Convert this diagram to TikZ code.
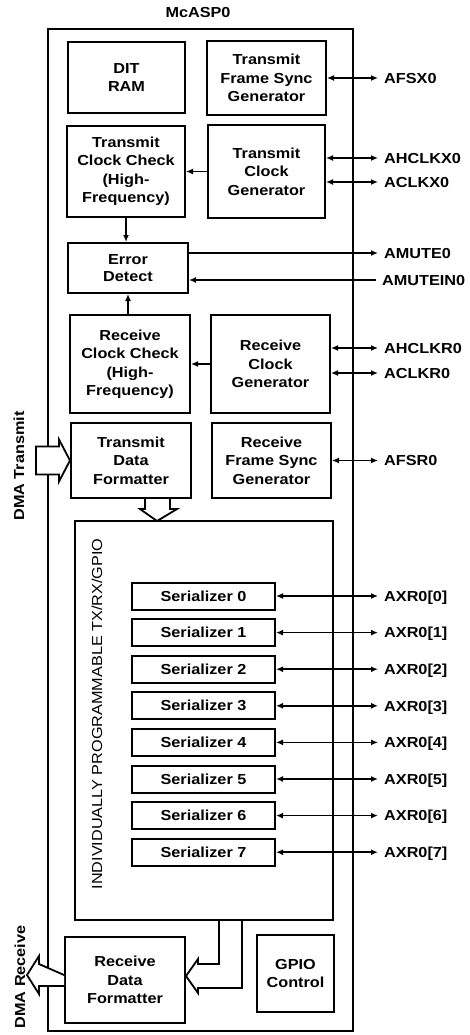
\documentclass[tikz,border=0pt]{standalone}
\usepackage{fontspec}
\setmainfont{Liberation Sans}[FakeStretch=1.12]
\usetikzlibrary{arrows.meta}
\tikzset{
  blk/.style={draw, line width=2pt, align=center, inner sep=0pt, font=\fontsize{14.5pt}{18.5pt}\selectfont\bfseries},
  sz/.style 2 args={minimum width=#1pt, minimum height=#2pt},
  pinlbl/.style={anchor=west, inner xsep=6pt, inner ysep=0pt, text height=10.4pt, text depth=0pt, font=\fontsize{14.5pt}{18pt}\selectfont\bfseries},
  sig/.style={line width=1.5pt, {Latex[length=7pt,width=6pt]}-{Latex[length=7pt,width=6pt]}},
  sigout/.style={line width=1.5pt, -{Latex[length=7pt,width=6pt]}},
  hollow/.style={line width=1.8pt, fill=white, line join=miter},
}
\begin{document}
\begin{tikzpicture}[x=1pt,y=-1pt]
            \useasboundingbox (0,0) rectangle (469,1035);
            
            \node[font=\fontsize{14.5pt}{18pt}\selectfont\bfseries] (title) at (198,13) {McASP0};
            \draw[line width=2.2pt] (48,29) rectangle (353,1031);
            
            \node[blk, sz={117}{71}] (dit) at (126.5,77.5) {DIT\\RAM};
            \node[blk, sz={119}{74}] (tfsg) at (266.5,78) {Transmit\\Frame Sync\\Generator};
            \node[blk, sz={118}{91}] (tcc) at (126,171.5) {Transmit\\Clock Check\\(High-\\Frequency)};
            \node[blk, sz={117}{93}] (tcg) at (266.5,171.5) {Transmit\\Clock\\Generator};
            \node[blk, sz={120}{50}, font=\fontsize{14.5pt}{16.5pt}\selectfont\bfseries] (ed) at (128,268) {Error\\Detect};
            \node[blk, sz={120}{98}] (rcc) at (130,364) {Receive\\Clock Check\\(High-\\Frequency)};
            \node[blk, sz={119}{98}] (rcg) at (270.5,364) {Receive\\Clock\\Generator};
            \node[blk, sz={120}{75}] (tdf) at (131,460.5) {Transmit\\Data\\Formatter};
            \node[blk, sz={119}{75}] (rfsg) at (271.5,460.5) {Receive\\Frame Sync\\Generator};
            \node[draw, line width=1.6pt, sz={258}{399}] (prog) at (204,720.5) {};
            \node[blk, sz={120}{86}] (rdf) at (125,980) {Receive\\Data\\Formatter};
            \node[blk, sz={77}{77}] (gpio) at (295.5,973.5) {GPIO\\Control};
            
            \node[rotate=90, font=\fontsize{14.5pt}{18pt}\selectfont\bfseries] (dmatx) at (19,466) {DMA Transmit};
            \node[rotate=90, font=\fontsize{14.5pt}{18pt}\selectfont\bfseries] (dmarx) at (20,977) {DMA Receive};
            \node[rotate=90, font=\fontsize{14.5pt}{18pt}\selectfont] (progtxt) at (97,714) {INDIVIDUALLY PROGRAMMABLE TX/RX/GPIO};
            
            % pins
            \node[pinlbl] (afsx) at (378,78) {AFSX0};
            \node[pinlbl] (ahclkx) at (378,158) {AHCLKX0};
            \node[pinlbl] (aclkx) at (378,182) {ACLKX0};
            \node[pinlbl] (amute) at (378,253) {AMUTE0};
            \node[pinlbl] (amutein) at (376,280) {AMUTEIN0};
            \node[pinlbl] (ahclkr) at (378,348) {AHCLKR0};
            \node[pinlbl] (aclkr) at (378,373) {ACLKR0};
            \node[pinlbl] (afsr) at (378,460.5) {AFSR0};
            
            \draw[sig] (tfsg.east) -- (afsx.west);
            \draw[sig] (tcg.east |- ahclkx.west) -- (ahclkx.west);
            \draw[sig] (tcg.east |- aclkx.west) -- (aclkx.west);
            \draw[sigout] (ed.east |- amute.west) -- (amute.west);
            \draw[sigout] (amutein.west) -- (ed.east |- amutein.west);
            \draw[sig] (rcg.east |- ahclkr.west) -- (ahclkr.west);
            \draw[sig] (rcg.east |- aclkr.west) -- (aclkr.west);
            \draw[sig] (rfsg.east) -- (afsr.west);
            
            \draw[sigout] (tcg.west) -- (tcc.east);
            \draw[sigout] (rcg.west) -- (rcc.east);
            \draw[sigout] (tcc.south) -- (tcc.south |- ed.north);
            \draw[sigout] (ed.south |- rcc.north) -- (ed.south);
            
            \foreach \i in {0,...,7}{
              \node[blk, sz={143}{27}] (ser\i) at (203.5,596+36.6*\i) {Serializer \i};
              \node[pinlbl] (axr\i) at (378,596+36.6*\i) {AXR0[\i]};
              \draw[sig] (ser\i.east) -- (axr\i.west);
            }
            
            % hollow data arrows
            \draw[hollow] ([xshift=14pt]tdf.south) -- ++(0,10) -- ++(-5,0) -- ++(17,12) -- ++(20,-12) -- ++(-7,0) -- ++(0,-10);
            \draw[hollow] (tdf.west) -- ++(-11,-21) -- ++(0,7) -- ++(-23,0) -- ++(0,28) -- ++(23,0) -- ++(0,7) -- cycle;
            \draw[hollow, fill=none] ([yshift=4pt]rdf.east) -- ++(12,-17) -- ++(0,5) -- ++(21,0) -- ++(0,-44);
            \draw[hollow, fill=none] ([yshift=4pt]rdf.east) -- ++(12,17) -- ++(0,-5) -- ++(44,0) -- ++(0,-68);
            \draw[hollow] ([yshift=5pt]rdf.west) -- ++(-25,-11) -- ++(0,-8) -- ++(-12,19) -- ++(12,19) -- ++(0,-8) -- ++(25,0);
\end{tikzpicture}
\end{document}
